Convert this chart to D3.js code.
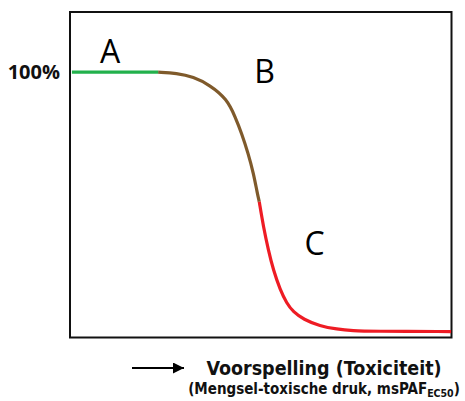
<!DOCTYPE html>
<html>
<head>
<meta charset="utf-8">
<script src="https://cdn.jsdelivr.net/npm/d3@7"></script>
<style>
  body { margin: 0; background: #fff; }
  svg { display: block; }
</style>
</head>
<body>
<svg class="chart" width="465" height="401"></svg>
<script>
// dose-response curve, split into three regions (x: 0-100 prediction, y: % effect)
var regionA = [[0.5, 100], [12, 100], [23.1, 100]];
var regionB = [[23.1, 100], [28, 99.6], [32.3, 98.2], [36.7, 95], [41.1, 89.7], [43.3, 82.8], [45, 76.4], [46.7, 68.7], [48.1, 61], [49.1, 53.3], [49.6, 50.1]];
var regionC = [[49.6, 50.1], [50.7, 40.4], [52, 31.4], [53.3, 23.7], [55.1, 16], [56.8, 10.9], [58.5, 7.6], [61.2, 4.7], [65.5, 2.1], [69.9, 0.9], [74.3, 0.3], [78.6, 0.1], [99.9, 0]];
var regionLabels = ["A", "B", "C"];
var labelX = [10.5, 51, 64.1];
var labelY = [103.5, 95.8, 29.7];
var yTicks = [100];
var xTitle = "Voorspelling (Toxiciteit)";
var xSubtitle = "(Mengsel-toxische druk, msPAF";
var xSubscript = "EC50";

var svg = d3.select("svg.chart"),
    margin = {top: 12, right: 13.5, bottom: 63.5, left: 70},
    width = parseInt(svg.attr("width")) - margin.left - margin.right,
    height = parseInt(svg.attr("height")) - margin.top - margin.bottom;

var x = d3.scaleLinear().domain([0, 100]).range([0, width]);
var y = d3.scaleLinear().domain([-2.3, 123.2]).range([height, 0]);

var line = d3.line()
    .x(function(d) { return x(d[0]); })
    .y(function(d) { return y(d[1]); })
    .curve(d3.curveBasis);

var g = svg.append("g").attr("transform", "translate(" + margin.left + "," + margin.top + ")");

// frame
g.append("rect")
    .attr("x", 0)
    .attr("y", 0)
    .attr("width", width)
    .attr("height", height)
    .attr("fill", "none")
    .attr("stroke", "#111")
    .attr("stroke-width", 2);

// only the 100% label on the y axis
var yAxis = g.append("g")
    .call(d3.axisLeft(y).tickValues(yTicks).tickSize(0).tickPadding(10).tickFormat(function(d) { return d + "%"; }));
yAxis.select(".domain").remove();
yAxis.selectAll("text")
    .attr("fill", "#111")
    .style("font-family", "'Open Sans', sans-serif")
    .style("font-weight", "bold")
    .style("font-size", "20px");

var segments = [
  {data: regionC, color: "#ee1c24"},
  {data: regionB, color: "#7f5a2b"},
  {data: regionA, color: "#22b14c"}
];
segments.forEach(function(s) {
  g.append("path")
      .datum(s.data)
      .attr("fill", "none")
      .attr("stroke", s.color)
      .attr("stroke-width", 3.2)
      .attr("d", line);
});

// region labels
g.selectAll("text.region")
    .data(regionLabels)
  .enter().append("text")
    .attr("class", "region")
    .attr("x", function(d, i) { return x(labelX[i]); })
    .attr("y", function(d, i) { return y(labelY[i]); })
    .attr("text-anchor", "middle")
    .style("font-family", "'Open Sans', sans-serif")
    .style("font-size", "32px")
    .attr("fill", "#000")
    .text(function(d) { return d; });

// x axis title with arrow
var tx = 254;
var title = g.append("g").attr("transform", "translate(0," + height + ")");

svg.append("defs").append("marker")
    .attr("id", "arrow")
    .attr("viewBox", "0 0 10 10")
    .attr("refX", 10)
    .attr("refY", 5)
    .attr("markerWidth", 6)
    .attr("markerHeight", 5.5)
    .attr("markerUnits", "strokeWidth")
    .attr("orient", "auto")
  .append("path")
    .attr("d", "M0,0L10,5L0,10z")
    .attr("fill", "#000");

title.append("line")
    .attr("x1", 62)
    .attr("x2", 114)
    .attr("y1", 30.5)
    .attr("y2", 30.5)
    .attr("stroke", "#000")
    .attr("stroke-width", 2)
    .attr("marker-end", "url(#arrow)");

title.append("text")
    .attr("x", tx)
    .attr("y", 37.5)
    .attr("text-anchor", "middle")
    .style("font-family", "'DejaVu Sans Condensed', 'DejaVu Sans', sans-serif")
    .style("font-weight", "bold")
    .style("font-size", "19.5px")
    .attr("fill", "#111")
    .text(xTitle);

var sub = title.append("text")
    .attr("x", tx)
    .attr("y", 56)
    .attr("text-anchor", "middle")
    .style("font-family", "'DejaVu Sans Condensed', 'DejaVu Sans', sans-serif")
    .style("font-weight", "bold")
    .style("font-size", "15px")
    .attr("fill", "#111");
sub.append("tspan").text(xSubtitle);
sub.append("tspan").attr("dy", 3).style("font-size", "10.5px").text(xSubscript);
sub.append("tspan").attr("dy", -3).text(")");
</script>
</body>
</html>
